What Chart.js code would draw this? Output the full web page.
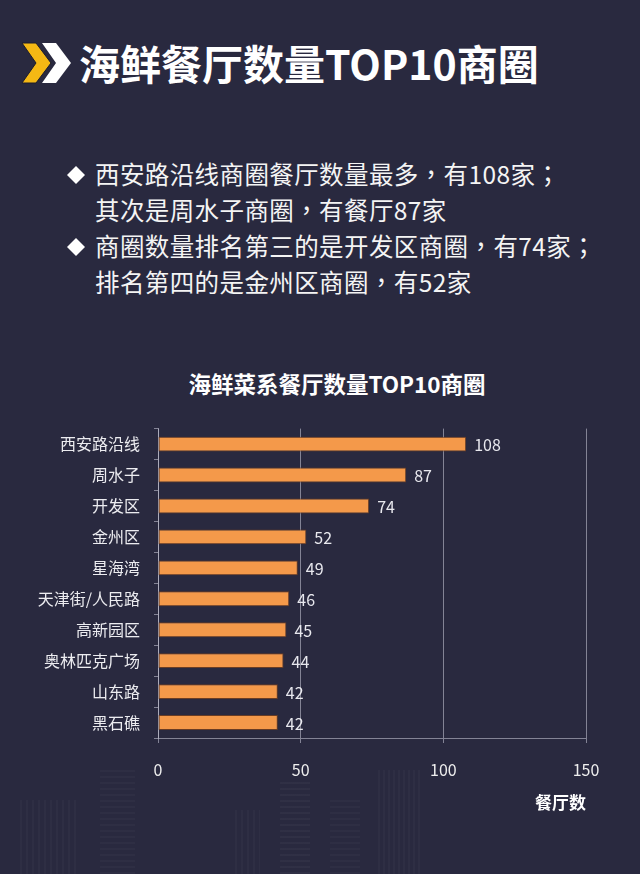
<!DOCTYPE html>
<html><head><meta charset="utf-8">
<script src="https://cdn.jsdelivr.net/npm/chart.js@4.4.1/dist/chart.umd.min.js"></script>
<style>
html,body{margin:0;padding:0;}
body{width:640px;height:874px;background:#29293f;position:relative;overflow:hidden;font-family:"Noto Sans CJK SC","Noto Sans",sans-serif;color:#fff;}
#bgfx{position:absolute;left:0;top:740px;width:640px;height:134px;
 background:
  repeating-linear-gradient(90deg,rgba(255,255,255,0.022) 0 2px,transparent 2px 6px) 20px 60px/60px 74px no-repeat,
  repeating-linear-gradient(0deg,rgba(255,255,255,0.025) 0 2px,transparent 2px 6px) 100px 30px/35px 104px no-repeat,
  repeating-linear-gradient(0deg,rgba(255,255,255,0.03) 0 2px,transparent 2px 6px) 280px 40px/30px 94px no-repeat,
  repeating-linear-gradient(90deg,rgba(255,255,255,0.025) 0 2px,transparent 2px 5px) 378px 30px/44px 104px no-repeat,
  repeating-linear-gradient(0deg,rgba(255,255,255,0.025) 0 2px,transparent 2px 6px) 330px 60px/30px 74px no-repeat,
  repeating-linear-gradient(90deg,rgba(255,255,255,0.022) 0 2px,transparent 2px 6px) 235px 70px/25px 64px no-repeat;}
#header{position:absolute;left:0;top:0;}
#htitle{position:absolute;left:79px;top:35px;font-size:41px;font-weight:bold;white-space:nowrap;line-height:54px;}
.bl{position:absolute;left:95px;font-size:24.5px;line-height:36px;white-space:nowrap;color:#f4f4f4;letter-spacing:0.4px;}
.p{font-family:"Noto Sans CJK TC","Noto Sans CJK SC",sans-serif;}
.dm{position:absolute;left:66px;width:20px;height:36px;}
#ctitle{position:absolute;left:0;width:674px;text-align:center;top:367px;font-size:22.5px;font-weight:bold;line-height:32px;}
#wrap{position:absolute;left:0;top:405px;width:640px;height:409px;}
</style></head>
<body>
<div id="bgfx"></div>
<svg id="header" width="80" height="100">
  <polygon points="22,43 36,43 51,63 36,83 22,83 36,63" fill="#f5b814" stroke="#1c1c2c" stroke-width="1"/>
  <polygon points="42,43 56,43 71,63 56,83 42,83 56,63" fill="#ffffff"/>
</svg>
<div id="htitle">海鲜餐厅数量TOP10商圈</div>

<svg class="dm" style="top:157px" viewBox="0 0 20 36"><polygon points="10,9 19,18 10,27 1,18" fill="#fff"/></svg>
<div class="bl" style="top:156px">西安路沿线商圈餐厅数量最多<span class="p">，</span>有108家<span class="p">；</span></div>
<div class="bl" style="top:192px">其次是周水子商圈<span class="p">，</span>有餐厅87家</div>
<svg class="dm" style="top:229px" viewBox="0 0 20 36"><polygon points="10,9 19,18 10,27 1,18" fill="#fff"/></svg>
<div class="bl" style="top:228px">商圈数量排名第三的是开发区商圈<span class="p">，</span>有74家<span class="p">；</span></div>
<div class="bl" style="top:264px">排名第四的是金州区商圈<span class="p">，</span>有52家</div>

<div id="ctitle">海鲜菜系餐厅数量TOP10商圈</div>
<div id="wrap"><canvas id="c"></canvas></div>

<script>
const categories = ["西安路沿线","周水子","开发区","金州区","星海湾","天津街/人民路","高新园区","奥林匹克广场","山东路","黑石礁"];
const restaurantCounts = [108,87,74,52,49,46,45,44,42,42];
const xTickValues = [0,50,100,150];
const xAxisTitle = "餐厅数";

const valueLabels = {
  id:'valueLabels',
  afterDatasetsDraw(chart){
    const ctx = chart.ctx;
    const meta = chart.getDatasetMeta(0);
    ctx.save();
    ctx.font = '16px "Noto Sans CJK SC","Noto Sans",sans-serif';
    ctx.fillStyle = '#e8e8ee';
    ctx.textAlign = 'left';
    ctx.textBaseline = 'middle';
    meta.data.forEach((bar,i)=>{
      ctx.fillText(String(chart.data.datasets[0].data[i]), bar.x + 8, bar.y + 1);
    });
    ctx.restore();
  }
};

const gridCol = 'rgba(205,205,220,0.55)';
new Chart(document.getElementById('c'),{
  type:'bar',
  data:{labels:categories,datasets:[{data:restaurantCounts,backgroundColor:'#f4994a',borderColor:'#6a3d24',borderWidth:1,borderSkipped:false,categoryPercentage:1,barPercentage:0.48}]},
  options:{
    indexAxis:'y',
    responsive:true,maintainAspectRatio:false,animation:false,
    layout:{padding:{top:0,right:54,left:0,bottom:0}},
    plugins:{legend:{display:false},tooltip:{enabled:false},title:{display:false}},
    scales:{
      x:{min:0,max:150,
        afterBuildTicks(s){ s.ticks = xTickValues.map(v=>({value:v})); },
        afterFit(s){ s.height = 76; },
        grid:{color:gridCol,lineWidth:1,tickLength:5,drawOnChartArea:true},
        border:{color:gridCol},
        ticks:{color:'#eeeeee',padding:17,font:{size:16,family:'"Noto Sans CJK SC","Noto Sans",sans-serif'}},
        title:{display:true,text:xAxisTitle,align:'end',color:'#ffffff',padding:{top:10,bottom:1},font:{size:17,weight:'bold',family:'"Noto Sans CJK SC",sans-serif'}}
      },
      y:{
        afterFit(s){ s.width = 158; },
        grid:{color:gridCol,drawOnChartArea:false,tickLength:4,offset:true},
        border:{color:gridCol},
        ticks:{color:'#ececf0',padding:14,font:{size:16,family:'"Noto Sans CJK SC","Noto Sans",sans-serif'}}
      }
    }
  },
  plugins:[valueLabels]
});
</script>
</body></html>
